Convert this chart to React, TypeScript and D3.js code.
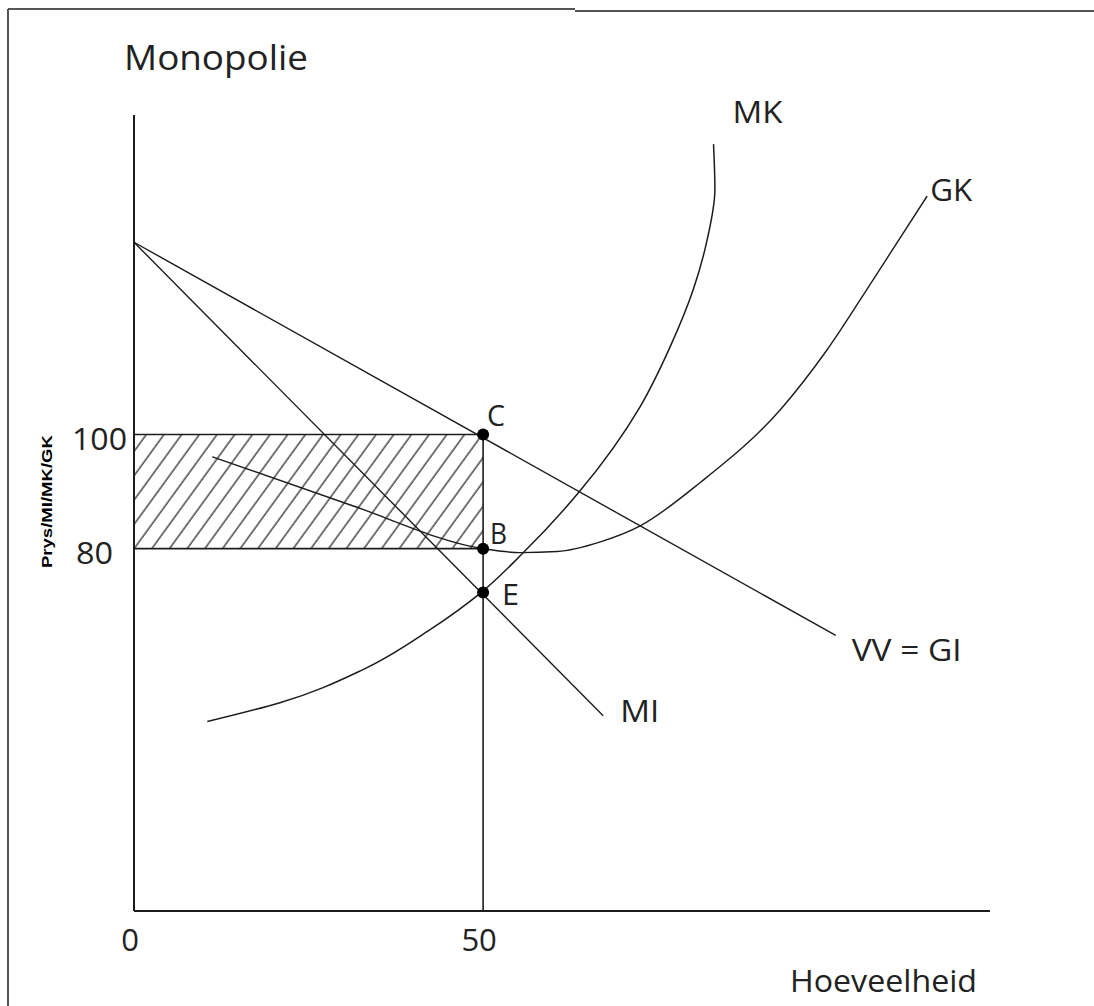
import React from 'react';
import * as d3 from 'd3';

// tick labels
const xTicks = [0, 50];
const yTicks = [100, 80];

// demand (VV = GI) and marginal revenue (MI), straight lines
const demandQ = [0, 100.5];
const demandP = [133.7, 64.8];
const miQ = [0, 67.2];
const miP = [133.7, 50.7];

// marginal cost (MK)
const mkQ = [10.5, 20.9, 32.8, 42.4, 49.7, 55.6, 63.8, 72.5, 76.8, 80.1, 82.1, 83.2, 83.0];
const mkP = [49.7, 53.0, 58.8, 65.8, 72.3, 79.1, 90.0, 104.9, 115.4, 125.4, 134.2, 143.0, 150.9];

// average cost (GK)
const gkQ = [11.2, 30.9, 50, 55.3, 60.6, 66.8, 72.5, 81.1, 92.6, 99.3, 105.9, 113.6];
const gkP = [96.1, 87.7, 80, 79.3, 79.5, 81.2, 84.0, 91.6, 104.4, 114.9, 127.2, 141.8];

// equilibrium points
const pointNames = ['C', 'B', 'E'];
const pointQ = [50, 50, 50];
const pointP = [100, 80, 72.3];

const W = 1094;
const H = 1006;
const ink = '#1c1c1c';
const font = '"Open Sans", sans-serif';

const x = d3.scaleLinear().domain([0, 122.6]).range([134, 990]);
const y = d3.scaleLinear().domain([16.5, 156]).range([911, 115]);

const zip = (a: number[], b: number[]) => a.map((v, i) => [v, b[i]] as [number, number]);

const straight = d3.line<[number, number]>().x(d => x(d[0])).y(d => y(d[1]));
const smoothY = d3.line<[number, number]>()
  .x(d => x(d[0]))
  .y(d => y(d[1]))
  .curve(d3.curveMonotoneY);
const smoothX = d3.line<[number, number]>()
  .x(d => x(d[0]))
  .y(d => y(d[1]))
  .curve(d3.curveMonotoneX);

const Label = ({ px, py, text, len, size = 31 }: any) => (
  <text x={px} y={py} fontFamily={font} fontSize={size} fill="#222"
    textLength={len} lengthAdjust="spacingAndGlyphs">{text}</text>
);

export default function App() {
  const q = 50;
  const pHigh = yTicks[0];
  const pLow = yTicks[1];
  const mkEnd = mkQ.length - 1;
  const gkEnd = gkQ.length - 1;

  return (
    <svg width={W} height={H} style={{ position: 'absolute', left: 0, top: 0, background: '#fff' }}>
      <defs>
        <pattern id="hatch" patternUnits="userSpaceOnUse" width={14.3} height={14.3}
          patternTransform="rotate(36)">
          <line x1={2} y1={-1} x2={2} y2={15.3} stroke={ink} strokeWidth={1.2} />
        </pattern>
      </defs>

      {/* frame */}
      <line x1={8} y1={9} x2={575} y2={9} stroke="#555" strokeWidth={2} />
      <line x1={575} y1={11} x2={W} y2={11} stroke="#555" strokeWidth={2} />
      <line x1={8} y1={9} x2={8} y2={H} stroke="#555" strokeWidth={2} />

      <Label px={124} py={70} text="Monopolie" len={184} size={34} />

      {/* shaded profit area */}
      <rect x={x(0)} y={y(pHigh)} width={x(q) - x(0)} height={y(pLow) - y(pHigh)} fill="url(#hatch)" />
      <line x1={x(0)} x2={x(q)} y1={y(pHigh)} y2={y(pHigh)} stroke={ink} strokeWidth={1.6} />
      <line x1={x(0)} x2={x(q)} y1={y(pLow)} y2={y(pLow)} stroke={ink} strokeWidth={1.6} />
      <line x1={x(q)} x2={x(q)} y1={y(pHigh)} y2={y(16.5)} stroke={ink} strokeWidth={1.6} />

      {/* axes */}
      <line x1={x(0)} x2={x(0)} y1={y(156)} y2={y(16.5)} stroke={ink} strokeWidth={2} />
      <line x1={x(0)} x2={x(122.6)} y1={y(16.5)} y2={y(16.5)} stroke={ink} strokeWidth={2} />

      {/* curves */}
      <path d={straight(zip(demandQ, demandP)) || ''} fill="none" stroke={ink} strokeWidth={1.4} />
      <path d={straight(zip(miQ, miP)) || ''} fill="none" stroke={ink} strokeWidth={1.4} />
      <path d={smoothY(zip(mkQ, mkP)) || ''} fill="none" stroke={ink} strokeWidth={1.5} />
      <path d={smoothX(zip(gkQ, gkP)) || ''} fill="none" stroke={ink} strokeWidth={1.4} />

      {/* points */}
      {pointNames.map((n, i) => (
        <circle key={n} cx={x(pointQ[i])} cy={y(pointP[i])} r={6} fill="#000" />
      ))}
      <Label px={x(pointQ[0]) + 4} py={y(pointP[0]) - 9} text="C" len={18} size={29} />
      <Label px={x(pointQ[1]) + 7} py={y(pointP[1]) - 5} text="B" len={17} size={29} />
      <Label px={x(pointQ[2]) + 19} py={y(pointP[2]) + 12} text="E" len={17} size={29} />

      {/* curve labels */}
      <Label px={x(mkQ[mkEnd]) + 19} py={y(mkP[mkEnd]) - 21} text="MK" len={50} />
      <Label px={x(gkQ[gkEnd]) + 3} py={y(gkP[gkEnd]) + 5} text="GK" len={42} />
      <Label px={x(demandQ[1]) + 16} py={y(demandP[1]) + 26} text="VV = GI" len={110} />
      <Label px={x(miQ[1]) + 17} py={y(miP[1]) + 6} text="MI" len={39} />

      {/* tick labels */}
      {yTicks.map(t => (
        <Label key={t} px={t === 100 ? 72 : 76} py={y(t) + 15} text={String(t)} len={t === 100 ? 55 : 37} />
      ))}
      {xTicks.map(t => (
        <text key={t} x={x(t) - 4} y={951} textAnchor="middle" fontFamily={font} fontSize={31} fill="#222">{t}</text>
      ))}

      {/* axis titles */}
      <Label px={790} py={992} text="Hoeveelheid" len={187} />
      <text transform={`translate(52,${(y(pHigh) + y(pLow)) / 2 + 10}) rotate(-90)`} textAnchor="middle"
        fontFamily='"Liberation Sans", Arial, sans-serif' fontWeight="bold" fontSize={15} fill="#000"
        textLength={133} lengthAdjust="spacingAndGlyphs">Prys/MI/MK/GK</text>
    </svg>
  );
}
